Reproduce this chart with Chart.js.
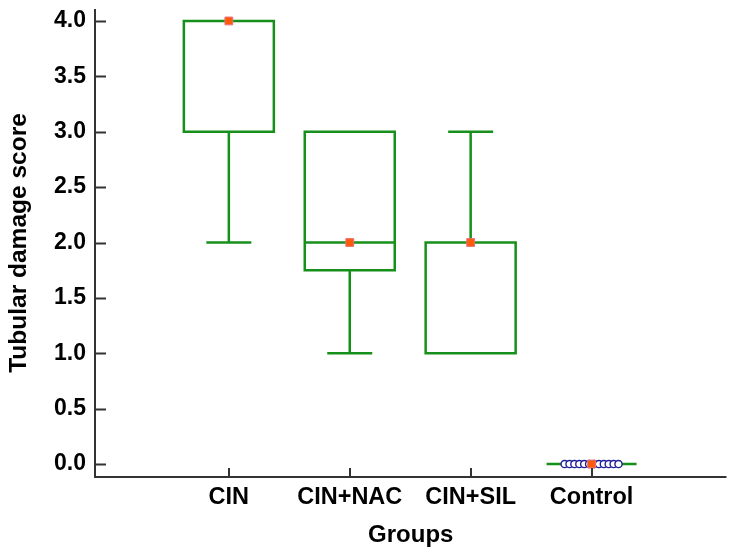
<!DOCTYPE html>
<html>
<head>
<meta charset="utf-8">
<script src="https://cdn.jsdelivr.net/npm/chart.js@4.4.1/dist/chart.umd.min.js"></script>
<style>
  html, body { margin: 0; padding: 0; background: #ffffff; }
  #wrap { width: 733px; height: 556px; }
</style>
</head>
<body>
<div id="wrap"><canvas id="c" width="733" height="556"></canvas></div>
<script>
// ---- data ----
const groups = ["CIN", "CIN+NAC", "CIN+SIL", "Control"];
const whiskerLow = [2, 1, 1, 0];
const q1 = [3, 1.75, 1, 0];
const medians = [4, 2, 2, 0];
const q3 = [4, 3, 2, 0];
const whiskerHigh = [4, 3, 3, 0];
const controlValues = [0, 0, 0, 0, 0, 0, 0, 0, 0, 0, 0, 0];
const yTicks = [0, 0.5, 1, 1.5, 2, 2.5, 3, 3.5, 4];

// ---- styles ----
const GREEN = '#17901b';
const AXIS = '#333333';
const BOX_HALF_PX = 45;
const CAP_HALF_PX = 22.5;
const JITTER_PX = 4.9;

const font = "'Liberation Sans', Arial, sans-serif";

const boxPlugin = {
  id: 'boxes',
  beforeDatasetsDraw(chart) {
    const ctx = chart.ctx;
    const xs = chart.scales.x, ys = chart.scales.y;
    ctx.save();
    ctx.strokeStyle = GREEN;
    ctx.lineWidth = 2.5;
    ctx.lineCap = 'butt';
    groups.forEach((g, i) => {
      const cx = xs.getPixelForValue(i + 1);
      const yq1 = ys.getPixelForValue(q1[i]);
      const yq3 = ys.getPixelForValue(q3[i]);
      const ymed = ys.getPixelForValue(medians[i]);
      const ylo = ys.getPixelForValue(whiskerLow[i]);
      const yhi = ys.getPixelForValue(whiskerHigh[i]);
      ctx.beginPath();
      ctx.rect(cx - BOX_HALF_PX, yq3, BOX_HALF_PX * 2, yq1 - yq3);
      ctx.moveTo(cx - BOX_HALF_PX, ymed);
      ctx.lineTo(cx + BOX_HALF_PX, ymed);
      if (whiskerLow[i] < q1[i]) {
        ctx.moveTo(cx, yq1); ctx.lineTo(cx, ylo);
        ctx.moveTo(cx - CAP_HALF_PX, ylo); ctx.lineTo(cx + CAP_HALF_PX, ylo);
      }
      if (whiskerHigh[i] > q3[i]) {
        ctx.moveTo(cx, yq3); ctx.lineTo(cx, yhi);
        ctx.moveTo(cx - CAP_HALF_PX, yhi); ctx.lineTo(cx + CAP_HALF_PX, yhi);
      }
      ctx.stroke();
    });
    ctx.restore();
  },
  afterDraw(chart) {
    const ctx = chart.ctx;
    const a = chart.chartArea;
    const xs = chart.scales.x, ys = chart.scales.y;
    ctx.save();
    ctx.strokeStyle = AXIS;
    ctx.lineWidth = 2;
    ctx.beginPath();
    ctx.moveTo(a.left, a.top);
    ctx.lineTo(a.left, a.bottom);
    ctx.lineTo(a.right, a.bottom);
    yTicks.forEach(v => {
      const py = Math.round(ys.getPixelForValue(v)) + 0.5;
      ctx.moveTo(a.left, py);
      ctx.lineTo(a.left + 11, py);
    });
    groups.forEach((g, i) => {
      const px = Math.round(xs.getPixelForValue(i + 1));
      ctx.moveTo(px, a.bottom);
      ctx.lineTo(px, a.bottom - 9);
    });
    ctx.stroke();
    ctx.restore();
  }
};

const controlPoints = controlValues.map(v => ({ x: 4, y: v }));

new Chart(document.getElementById('c'), {
  type: 'scatter',
  data: {
    datasets: [
      {
        label: 'Median',
        data: medians.map((m, i) => ({ x: i + 1, y: m })),
        pointStyle: 'rect',
        pointRadius: 5.5,
        backgroundColor: '#ff5a0a',
        borderColor: '#e8707a',
        borderWidth: 1
      },
      {
        label: 'Control values',
        data: controlPoints,
        pointStyle: 'circle',
        pointRadius: 3.6,
        backgroundColor: '#ffffff',
        borderColor: '#1e1e9a',
        borderWidth: 1.4
      }
    ]
  },
  options: {
    responsive: false,
    animation: false,
    events: [],
    layout: { padding: { top: 9, right: 6, left: 0, bottom: 0 } },
    plugins: {
      legend: { display: false },
      tooltip: { enabled: false }
    },
    scales: {
      x: {
        type: 'linear',
        min: -0.107,
        max: 5.116,
        grid: { display: false, drawTicks: false },
        border: { display: false },
        afterBuildTicks: s => { s.ticks = groups.map((g, i) => ({ value: i + 1 })); },
        afterFit: s => { s.height = 79; s.paddingLeft = 0; s.paddingRight = 0; },
        ticks: {
          autoSkip: false,
          maxRotation: 0,
          padding: 6,
          color: '#000000',
          font: { family: font, size: 23.5, weight: 'bold' },
          callback: v => groups[v - 1]
        },
        title: {
          display: true,
          text: 'Groups',
          color: '#000000',
          font: { family: font, size: 24, weight: 'bold' },
          padding: { top: 0, bottom: 6 }
        }
      },
      y: {
        type: 'linear',
        min: -0.117,
        max: 4.108,
        grid: { display: false, drawTicks: false },
        border: { display: false },
        afterBuildTicks: s => { s.ticks = yTicks.map(v => ({ value: v })); },
        afterFit: s => { s.width = 95; s.paddingTop = 0; s.paddingBottom = 0; },
        ticks: {
          padding: 9,
          color: '#000000',
          font: { family: font, size: 23, weight: 'bold' },
          callback: v => Number(v).toFixed(1)
        },
        title: {
          display: true,
          text: 'Tubular damage score',
          color: '#000000',
          font: { family: font, size: 24.5, weight: 'bold' },
          padding: { top: 5, bottom: 0 }
        }
      }
    }
  },
  plugins: [boxPlugin, {
    id: 'jitter',
    afterDatasetsUpdate(chart) {
      const meta = chart.getDatasetMeta(1);
      const n = controlValues.length;
      meta.data.forEach((pt, k) => {
        pt.x = pt.x + (k - (n - 1) / 2) * JITTER_PX;
      });
    }
  }]
});
</script>
</body>
</html>
